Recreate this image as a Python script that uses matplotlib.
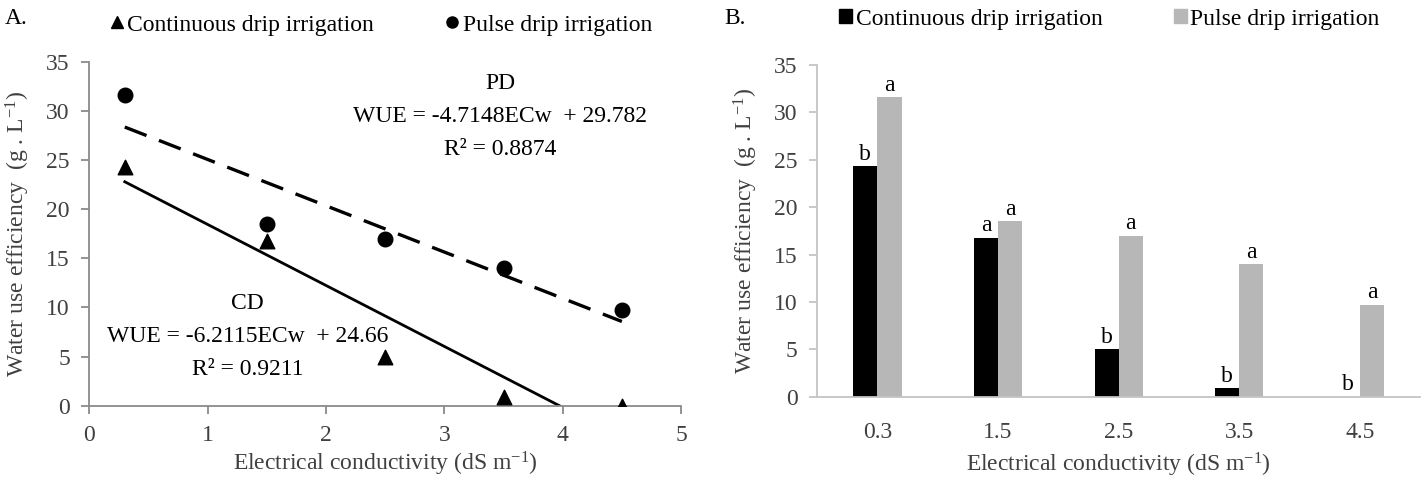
import numpy as np
import matplotlib
matplotlib.use("Agg")
import matplotlib.pyplot as plt
from matplotlib.lines import Line2D
from matplotlib.patches import Patch

plt.rcParams['font.family'] = ['Liberation Serif', 'DejaVu Serif']
plt.rcParams['mathtext.fontset'] = 'custom'
plt.rcParams['mathtext.rm'] = 'Liberation Serif'
plt.rcParams['mathtext.it'] = 'Liberation Serif:italic'

# data
ec = [0.3, 1.5, 2.5, 3.5, 4.5]
ec_labels = ['0.3', '1.5', '2.5', '3.5', '4.5']
cd = [24.3, 16.8, 5.0, 0.9, 0.0]
pd_ = [31.6, 18.5, 17.0, 14.0, 9.7]
cd_letters = ['b', 'a', 'b', 'b', 'b']
pd_letters = ['a', 'a', 'a', 'a', 'a']
# trendline coefficients (slope, intercept)
cd_fit = (-6.2115, 24.66)
pd_fit = (-4.7148, 29.782)

fs = 17
tick_col = '#404040'

fig = plt.figure(figsize=(14.26, 4.8), dpi=100)

# ---- panel A ----
ax1 = fig.add_axes([0.0626, 0.155, 0.415, 0.716])
ax1.scatter(ec, cd, marker='^', s=110, color='black', zorder=3)
ax1.scatter(ec, pd_, marker='o', s=110, color='black', zorder=3)
xs = np.array([ec[0], ec[-1]])
ax1.plot(xs, cd_fit[0] * xs + cd_fit[1], color='black', lw=2.0)
ax1.plot(xs, pd_fit[0] * xs + pd_fit[1], color='black', lw=2.4,
         dashes=(7, 4))
ax1.set_xlim(0, 5)
ax1.set_ylim(0, 35)
ax1.set_xticks(range(6))
ax1.set_yticks(range(0, 36, 5))
for s in ['top', 'right']:
    ax1.spines[s].set_visible(False)
for s in ['left', 'bottom']:
    ax1.spines[s].set_color('#8a8a8a')
    ax1.spines[s].set_linewidth(1.3)
ax1.tick_params(direction='out', length=6, width=1.3, color='#8a8a8a',
                labelsize=fs, labelcolor=tick_col, pad=8)
ax1.set_xlabel('Electrical conductivity (dS m$^{\\mathregular{-1}}$)',
               fontsize=fs, color=tick_col, labelpad=3)
ax1.set_ylabel('Water use efficiency  (g . L$^{\\mathregular{-1}}$)',
               fontsize=fs, color=tick_col, labelpad=10)

ax1.text(3.47, 29.4, 'PD\nWUE = -4.7148ECw  + 29.782\nR² = 0.8874',
         ha='center', va='center', fontsize=fs, linespacing=1.75)
ax1.text(1.34, 7.0, 'CD\nWUE = -6.2115ECw  + 24.66\nR² = 0.9211',
         ha='center', va='center', fontsize=fs, linespacing=1.75)

h1 = [Line2D([], [], marker='^', color='black', ls='none', ms=8),
      Line2D([], [], marker='o', color='black', ls='none', ms=8)]
fig.legend(h1, ['Continuous drip irrigation', 'Pulse drip irrigation'],
           loc='center', bbox_to_anchor=(0.267, 0.948), ncol=2,
           frameon=False, fontsize=fs, handlelength=0.6,
           handletextpad=0.15, columnspacing=3.0)
fig.text(0.003, 0.962, 'A.', fontsize=fs, ha='left', va='center')

# ---- panel B ----
ax2 = fig.add_axes([0.573, 0.1735, 0.423, 0.691])
x = np.arange(len(ec))
w = 0.2
ax2.bar(x - w / 2, cd, w, color='black')
ax2.bar(x + w / 2, pd_, w, color='#b7b7b7')
for i in range(len(ec)):
    ax2.annotate(cd_letters[i], (x[i] - w / 2, cd[i]), xytext=(0, 1),
                 textcoords='offset points', ha='center', va='bottom',
                 fontsize=fs)
    ax2.annotate(pd_letters[i], (x[i] + w / 2, pd_[i]), xytext=(0, 1),
                 textcoords='offset points', ha='center', va='bottom',
                 fontsize=fs)
ax2.set_xlim(-0.5, len(ec) - 0.5)
ax2.set_ylim(0, 35)
ax2.set_xticks(x)
ax2.set_xticklabels(ec_labels)
ax2.set_yticks(range(0, 36, 5))
for s in ['top', 'right']:
    ax2.spines[s].set_visible(False)
for s in ['left', 'bottom']:
    ax2.spines[s].set_color('#c4c4c4')
    ax2.spines[s].set_linewidth(1.3)
ax2.tick_params(axis='y', direction='out', length=6, width=1.3,
                color='#c4c4c4', labelsize=fs, labelcolor=tick_col, pad=8)
ax2.tick_params(axis='x', length=0, labelsize=fs, labelcolor=tick_col,
                pad=18)
ax2.set_xlabel('Electrical conductivity (dS m$^{\\mathregular{-1}}$)',
               fontsize=fs, color=tick_col, labelpad=6)
ax2.set_ylabel('Water use efficiency  (g . L$^{\\mathregular{-1}}$)',
               fontsize=fs, color=tick_col, labelpad=10)

h2 = [Patch(color='black'), Patch(color='#b7b7b7')]
fig.legend(h2, ['Continuous drip irrigation', 'Pulse drip irrigation'],
           loc='center', bbox_to_anchor=(0.778, 0.96), ncol=2,
           frameon=False, fontsize=fs, handlelength=0.55, handleheight=0.55,
           handletextpad=0.15, columnspacing=3.0)
fig.text(0.508, 0.962, 'B.', fontsize=fs, ha='left', va='center')

fig.savefig('out.png', dpi=100)
